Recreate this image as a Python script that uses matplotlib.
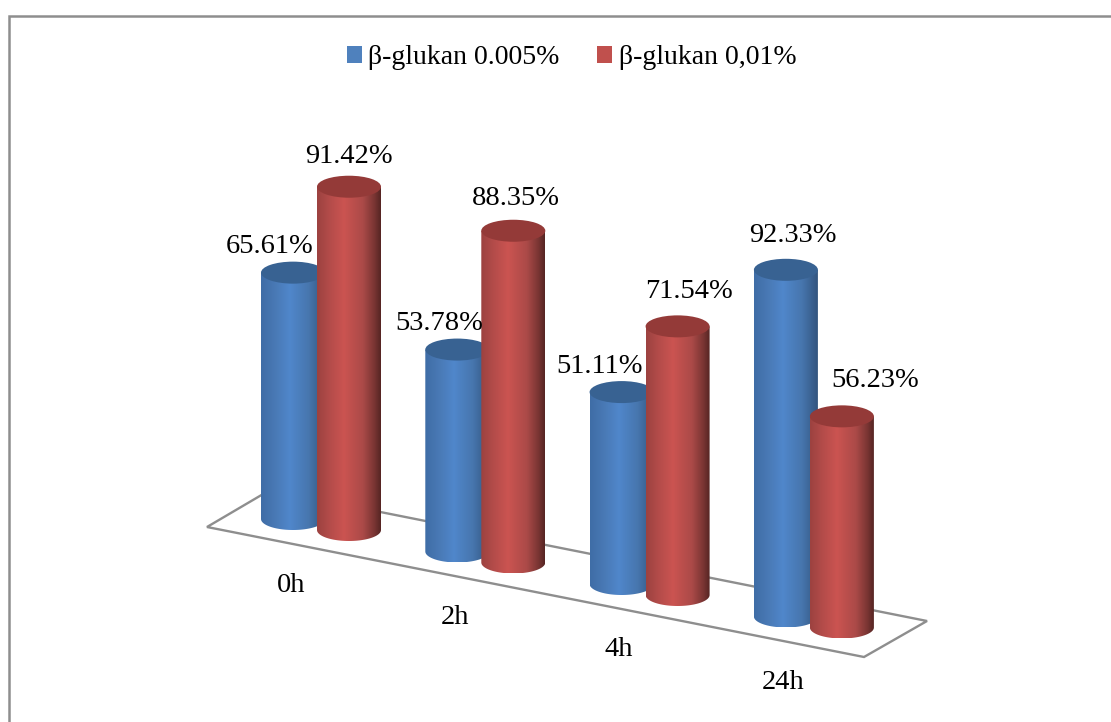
import numpy as np
import matplotlib
matplotlib.use("Agg")
import matplotlib.pyplot as plt
from matplotlib.colors import LinearSegmentedColormap
from matplotlib.patches import Ellipse, Patch, PathPatch, Polygon
from matplotlib.path import Path

plt.rcParams['font.family'] = ['Liberation Serif', 'DejaVu Serif']

categories = ["0h", "2h", "4h", "24h"]
series_names = ["β-glukan 0.005%", "β-glukan 0,01%"]
values_a = [65.61, 53.78, 51.11, 92.33]
values_b = [91.42, 88.35, 71.54, 56.23]

# fake 3d layout, in picture pixels
PX_PER_PCT = 3.755
STEP_X, STEP_Y = 164.3, 32.5
RX, RY = 32, 11
BASES = [(293, 519), (349, 530)]
label_offsets_a = [(-23, -26), (-18, -26), (-22, -26), (7, -34)]
label_offsets_b = [(0, -30), (3, -32), (11, -35), (33, -36)]

body_cmaps = [
    LinearSegmentedColormap.from_list("b", [(0, "#3f6da6"), (0.22, "#4979b5"), (0.45, "#5087cb"),
                                            (0.75, "#4776ae"), (1, "#33557f")]),
    LinearSegmentedColormap.from_list("r", [(0, "#9c4240"), (0.2, "#b44c4a"), (0.42, "#cb5451"),
                                            (0.72, "#ab4a48"), (0.9, "#7a3533"), (1, "#562523")]),
]
cap_colors = ["#386292", "#943a38"]
legend_colors = ["#4f81bd", "#c0504d"]
grey = "#8e8e8e"

fig = plt.figure(figsize=(11.11, 7.22), dpi=100)
ax = fig.add_axes([0, 0, 1, 1])


def cylinder(cx, base_y, value, s):
    top_y = base_y - value * PX_PER_PCT
    t = np.linspace(np.pi, 0, 60)
    pts = np.column_stack([cx + RX * np.cos(t), base_y + RY * np.sin(t)])
    pts = np.vstack([[cx - RX, top_y], pts, [cx + RX, top_y], [cx - RX, top_y]])
    clip = PathPatch(Path(pts), fc="none", ec="none", transform=ax.transData)
    ax.add_patch(clip)
    im = ax.imshow(np.linspace(0, 1, 128).reshape(1, -1), cmap=body_cmaps[s], aspect="auto",
                   extent=(cx - RX, cx + RX, base_y + RY, top_y), zorder=3, interpolation="bilinear")
    im.set_clip_path(clip)
    ax.add_patch(Ellipse((cx, top_y), 2 * RX, 2 * RY, fc=cap_colors[s], ec="none", zorder=3))
    return top_y


# floor
ax.add_patch(Polygon([(207, 527), (270, 490), (927, 621), (864, 657)], closed=True,
                     fc="white", ec=grey, lw=1.7, zorder=1))

for s, (vals, offs) in enumerate([(values_a, label_offsets_a), (values_b, label_offsets_b)]):
    for i, v in enumerate(vals):
        cx = BASES[s][0] + i * STEP_X
        by = BASES[s][1] + i * STEP_Y
        top = cylinder(cx, by, v, s)
        ax.text(cx + offs[i][0], top + offs[i][1], f"{v:.2f}%", fontsize=20.5,
                ha="center", va="center", color="black", zorder=5)

for i, c in enumerate(categories):
    ax.text(291 + i * 164, 585 + i * 32.5, c, fontsize=20.5, ha="center", va="center", zorder=5)

handles = [Patch(fc=legend_colors[k], ec="none", label=series_names[k]) for k in range(2)]
leg = ax.legend(handles=handles, loc="center", bbox_to_anchor=(571.5, 58), bbox_transform=ax.transData,
                frameon=False, ncol=2, fontsize=20, handlelength=0.54, handleheight=0.54,
                handletextpad=0.22, columnspacing=1.37, borderpad=0)

# outer frame, cut off at the right and bottom of the picture
ax.plot([9, 9, 1111], [722, 16, 16], color=grey, lw=1.8, zorder=6, solid_joinstyle="miter")

ax.set_xlim(0, 1111)
ax.set_ylim(722, 0)
ax.axis("off")
fig.savefig("out.png", dpi=100, facecolor="white")
